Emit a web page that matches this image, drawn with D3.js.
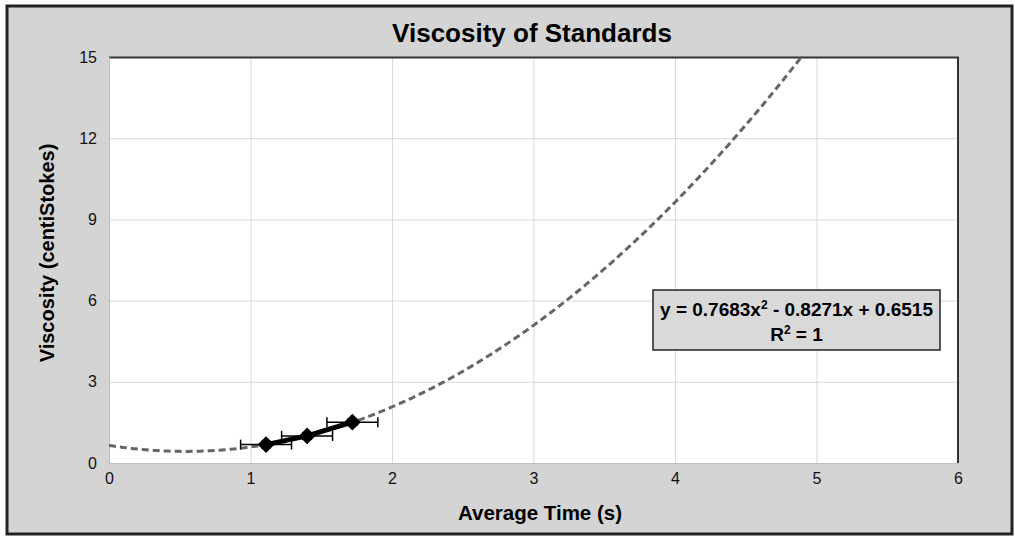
<!DOCTYPE html>
<html>
<head>
<meta charset="utf-8">
<script src="https://cdn.jsdelivr.net/npm/d3@7"></script>
<style>
  body { margin: 0; background: #fff; }
  svg { display: block; font-family: "Liberation Sans", Arial, sans-serif; }
  .grid line { stroke: #d9d9d9; }
  .grid path { display: none; }
  .tick text { font-size: 16px; fill: #111; }
</style>
</head>
<body>
<div id="chart"></div>
<script>
// measured standards
const avgTime = [1.11, 1.40, 1.72];
const viscosity = [0.68, 1.00, 1.51];
const timeErr = [0.18, 0.18, 0.18];
const viscErr = [0.12, 0.12, 0.12];

// polynomial trendline (from the chart label): a*x^2 + b*x + c
const trendCoef = [0.7683, -0.8271, 0.6515];

const xTicks = [0, 1, 2, 3, 4, 5, 6];
const yTicks = [0, 3, 6, 9, 12, 15];

const width = 1015, height = 538;
const margin = { top: 57, right: 57, bottom: 75, left: 109 };
const w = width - margin.left - margin.right;
const h = height - margin.top - margin.bottom;

const svg = d3.select("#chart").append("svg")
    .attr("width", width)
    .attr("height", height);

// outer frame
svg.append("rect")
    .attr("x", 7).attr("y", 6)
    .attr("width", 1005).attr("height", 528)
    .attr("fill", "#d4d4d4")
    .attr("stroke", "#222")
    .attr("stroke-width", 3);

const plot = svg.append("g")
    .attr("transform", `translate(${margin.left},${margin.top})`);

const x = d3.scaleLinear().domain([0, 6]).range([0, w]);
const y = d3.scaleLinear().domain([0, 15]).range([h, 0]);

plot.append("rect")
    .attr("width", w).attr("height", h)
    .attr("fill", "#fff");

// grid lines
plot.append("g")
    .attr("class", "grid")
    .attr("transform", `translate(0,${h})`)
    .call(d3.axisBottom(x).tickValues(xTicks).tickSize(-h).tickFormat(""));

plot.append("g")
    .attr("class", "grid")
    .call(d3.axisLeft(y).tickValues(yTicks).tickSize(-w).tickFormat(""));

// dark top/right edge of plot area
plot.append("path")
    .attr("d", `M0,0.5H${w}V${h}`)
    .attr("fill", "none")
    .attr("stroke", "#333")
    .attr("stroke-width", 2);

// axes (labels only)
const xAxis = plot.append("g")
    .attr("transform", `translate(0,${h})`)
    .call(d3.axisBottom(x).tickValues(xTicks).tickSize(0).tickPadding(10).tickFormat(d3.format("d")));
xAxis.select(".domain").attr("stroke", "#bfbfbf");

const yAxis = plot.append("g")
    .call(d3.axisLeft(y).tickValues(yTicks).tickSize(0).tickPadding(12).tickFormat(d3.format("d")));
yAxis.select(".domain").attr("stroke", "#bfbfbf");

// trendline
plot.append("clipPath").attr("id", "clip")
  .append("rect").attr("width", w).attr("height", h);

const trendX = d3.range(0, 5.01, 0.02);
const trend = trendX.map(t => [t, trendCoef[0] * t * t + trendCoef[1] * t + trendCoef[2]]);

plot.append("path")
    .datum(trend)
    .attr("clip-path", "url(#clip)")
    .attr("fill", "none")
    .attr("stroke", "#666")
    .attr("stroke-width", 3)
    .attr("stroke-dasharray", "7,4")
    .attr("d", d3.line().x(d => x(d[0])).y(d => y(d[1])));

const pts = avgTime.map((t, i) => ({ t, v: viscosity[i], ex: timeErr[i], ey: viscErr[i] }));

// error bars
const eb = plot.append("g").attr("stroke", "#000").attr("stroke-width", 1.5);
pts.forEach(d => {
    eb.append("line")
        .attr("x1", x(d.t - d.ex)).attr("x2", x(d.t + d.ex))
        .attr("y1", y(d.v)).attr("y2", y(d.v));
    [d.t - d.ex, d.t + d.ex].forEach(e => {
        eb.append("line")
            .attr("x1", x(e)).attr("x2", x(e))
            .attr("y1", y(d.v) - 5).attr("y2", y(d.v) + 5);
    });
    eb.append("line")
        .attr("x1", x(d.t)).attr("x2", x(d.t))
        .attr("y1", y(d.v - d.ey)).attr("y2", y(d.v + d.ey));
    [d.v - d.ey, d.v + d.ey].forEach(e => {
        eb.append("line")
            .attr("x1", x(d.t) - 5).attr("x2", x(d.t) + 5)
            .attr("y1", y(e)).attr("y2", y(e));
    });
});

// data line + diamond markers
plot.append("path")
    .datum(pts)
    .attr("fill", "none")
    .attr("stroke", "#000")
    .attr("stroke-width", 5)
    .attr("d", d3.line().x(d => x(d.t)).y(d => y(d.v)));

plot.selectAll(".pt")
    .data(pts)
    .join("path")
    .attr("class", "pt")
    .attr("transform", d => `translate(${x(d.t)},${y(d.v)})`)
    .attr("d", d3.symbol(d3.symbolDiamond2, 180))
    .attr("fill", "#000");

// equation box
const box = svg.append("g").attr("transform", "translate(653,290)");
box.append("rect")
    .attr("width", 287).attr("height", 60)
    .attr("fill", "#d9d9d9")
    .attr("stroke", "#222")
    .attr("stroke-width", 1.5);

const eq = box.append("text")
    .attr("x", 143.5).attr("y", 26)
    .attr("text-anchor", "middle")
    .attr("font-size", 19)
    .attr("font-weight", "bold");
eq.append("tspan").text("y = 0.7683x");
eq.append("tspan").attr("font-size", 12).attr("dy", -7).text("2");
eq.append("tspan").attr("dy", 7).text(" - 0.8271x + 0.6515");

const r2 = box.append("text")
    .attr("x", 143.5).attr("y", 51)
    .attr("text-anchor", "middle")
    .attr("font-size", 19)
    .attr("font-weight", "bold");
r2.append("tspan").text("R");
r2.append("tspan").attr("font-size", 12).attr("dy", -7).text("2");
r2.append("tspan").attr("dy", 7).text(" = 1");

// titles
svg.append("text")
    .attr("x", 532).attr("y", 42)
    .attr("text-anchor", "middle")
    .attr("font-size", 26)
    .attr("font-weight", "bold")
    .text("Viscosity of Standards");

svg.append("text")
    .attr("x", 540).attr("y", 520)
    .attr("text-anchor", "middle")
    .attr("font-size", 20.5)
    .attr("font-weight", "bold")
    .text("Average Time (s)");

svg.append("text")
    .attr("transform", "translate(54,253) rotate(-90)")
    .attr("text-anchor", "middle")
    .attr("font-size", 20)
    .attr("font-weight", "bold")
    .text("Viscosity (centiStokes)");
</script>
</body>
</html>
